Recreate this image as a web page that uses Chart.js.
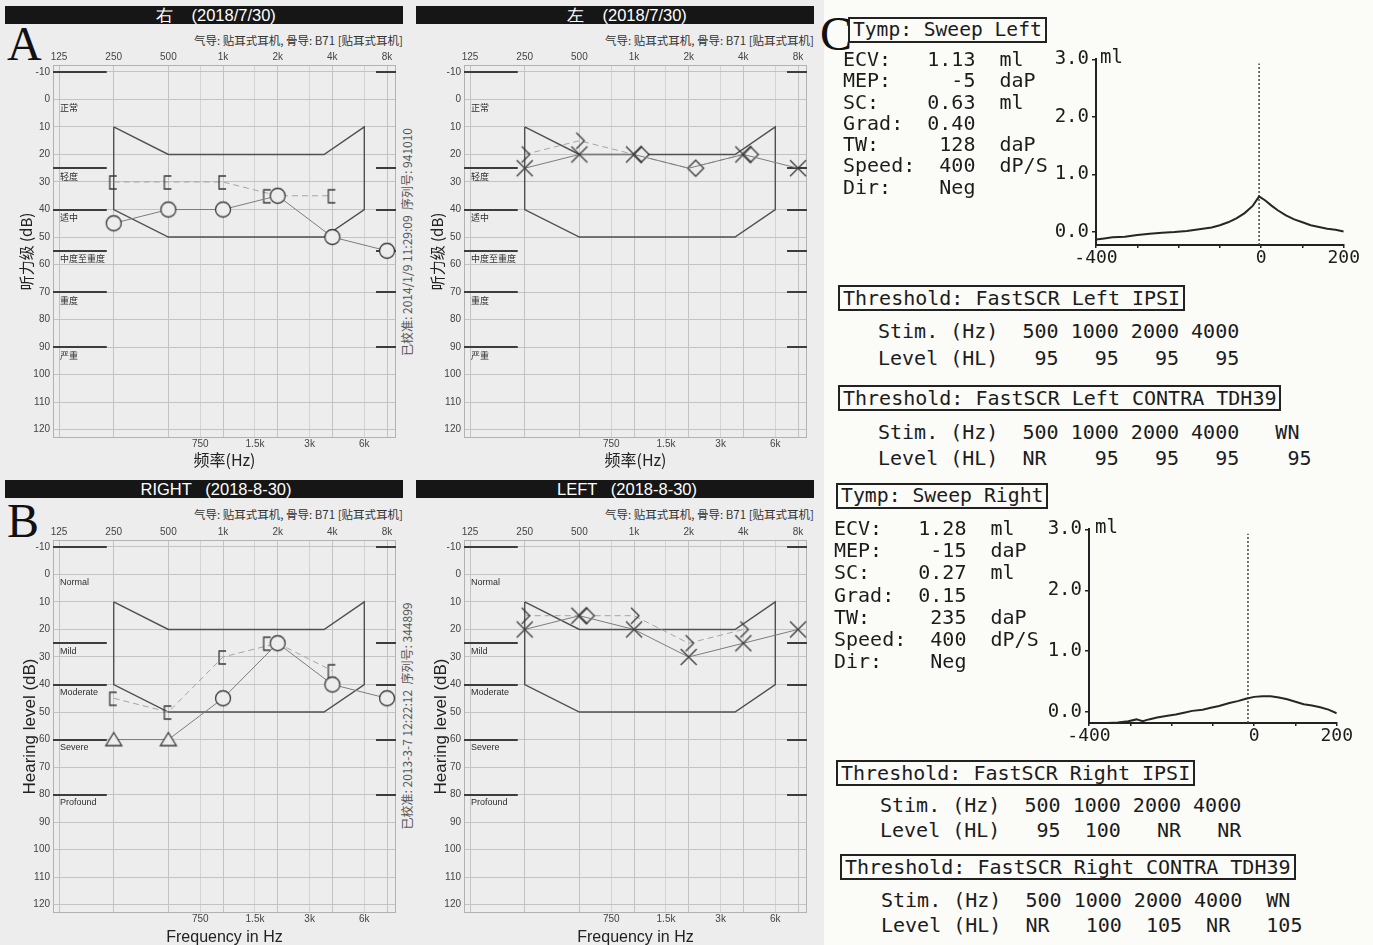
<!DOCTYPE html>
<html>
<head>
<meta charset="utf-8">
<title>Audiograms and tympanograms</title>
<script src="https://cdn.jsdelivr.net/npm/chart.js@4.4.1/dist/chart.umd.min.js"></script>
<style>
  body { margin: 0; width: 1373px; height: 945px; position: relative; overflow: hidden; background: #fbfbf8; font-family: "Liberation Sans", Arial, sans-serif; }
  #audioBg { position: absolute; left: 0; top: 0; width: 824px; height: 945px; background: #ededed; }
  canvas { position: absolute; }
  .bar { position: absolute; width: 398px; height: 18px; line-height: 18px; background: #161616; color: #fff; font-size: 16.5px; text-align: center; white-space: pre; box-sizing: border-box; padding-left: 24px; }
  .sub { position: absolute; width: 398px; text-align: right; font: 11.5px "Noto Sans CJK SC"; color: #333; line-height: 14px; white-space: pre; }
  .big { position: absolute; font: 48px "Liberation Serif", serif; line-height: 48px; color: #111; }
  .side { position: absolute; white-space: pre; font: 12px "Noto Sans CJK SC"; color: #555; transform: translate(-50%, -50%) rotate(-90deg); }
  .mono { position: absolute; margin: 0; white-space: pre; font-family: "DejaVu Sans Mono", monospace; color: #1c1c1c; font-size: 20px; }
  .box { border: 2px solid #222; padding: 0 3px; line-height: 22px; }
</style>
</head>
<body>
<div id="audioBg"></div>

<div class="bar" style="left:5px;top:6px">右    (2018/7/30)</div>
<div class="bar" style="left:416px;top:6px">左    (2018/7/30)</div>
<div class="bar" style="left:5px;top:480px">RIGHT   (2018-8-30)</div>
<div class="bar" style="left:416px;top:480px">LEFT   (2018-8-30)</div>

<div class="big" style="left:7px;top:20px">A</div>
<div class="big" style="left:7px;top:497px">B</div>
<div class="big" style="left:820px;top:10px">C</div>

<div class="sub" style="left:5px;top:33px">气导: 贴耳式耳机, 骨导: B71 [贴耳式耳机]</div>
<div class="sub" style="left:416px;top:33px">气导: 贴耳式耳机, 骨导: B71 [贴耳式耳机]</div>
<div class="sub" style="left:5px;top:507px">气导: 贴耳式耳机, 骨导: B71 [贴耳式耳机]</div>
<div class="sub" style="left:416px;top:507px">气导: 贴耳式耳机, 骨导: B71 [贴耳式耳机]</div>

<div class="side" style="left:406px;top:242px">已校准: 2014/1/9 11:29:09  序列号: 941010</div>
<div class="side" style="left:406px;top:716px">已校准: 2013-3-7 12:22:12  序列号: 344899</div>

<canvas id="aRight" width="400" height="430" style="left:5px;top:44px"></canvas>
<canvas id="aLeft" width="400" height="430" style="left:416px;top:44px"></canvas>
<canvas id="bRight" width="400" height="430" style="left:5px;top:519px"></canvas>
<canvas id="bLeft" width="400" height="430" style="left:416px;top:519px"></canvas>

<canvas id="tympLeft" width="317" height="225" style="left:1044px;top:45px"></canvas>
<canvas id="tympRight" width="318" height="233" style="left:1036px;top:515px"></canvas>

<div class="mono box" style="left:848px;top:17px;font-size:19.6px">Tymp: Sweep Left</div>
<pre class="mono" style="left:843px;top:49px;line-height:21.3px">ECV:   1.13  ml
MEP:     -5  daP
SC:    0.63  ml
Grad:  0.40
TW:     128  daP
Speed:  400  dP/S
Dir:    Neg</pre>
<pre class="mono" style="left:1100px;top:45px;font-size:19px;line-height:22px">ml</pre>
<div class="mono box" style="left:838px;top:285px">Threshold: FastSCR Left IPSI</div>
<pre class="mono" style="left:878px;top:318px;line-height:27px">Stim. (Hz)  500 1000 2000 4000
Level (HL)   95   95   95   95</pre>
<div class="mono box" style="left:838px;top:385px">Threshold: FastSCR Left CONTRA TDH39</div>
<pre class="mono" style="left:878px;top:419px;line-height:26px">Stim. (Hz)  500 1000 2000 4000   WN
Level (HL)  NR    95   95   95    95</pre>

<div class="mono box" style="left:836px;top:483px;font-size:19.8px">Tymp: Sweep Right</div>
<pre class="mono" style="left:834px;top:517px;line-height:22.2px">ECV:   1.28  ml
MEP:    -15  daP
SC:    0.27  ml
Grad:  0.15
TW:     235  daP
Speed:  400  dP/S
Dir:    Neg</pre>
<pre class="mono" style="left:1095px;top:515px;font-size:19px;line-height:22px">ml</pre>
<div class="mono box" style="left:836px;top:760px">Threshold: FastSCR Right IPSI</div>
<pre class="mono" style="left:880px;top:793px;line-height:25px">Stim. (Hz)  500 1000 2000 4000
Level (HL)   95  100   NR   NR</pre>
<div class="mono box" style="left:840px;top:854px">Threshold: FastSCR Right CONTRA TDH39</div>
<pre class="mono" style="left:881px;top:888px;line-height:25px">Stim. (Hz)  500 1000 2000 4000  WN
Level (HL)  NR   100  105  NR   105</pre>

<script>
// ---- audiogram axes ----
const FREQS = [250, 500, 1000, 2000, 4000, 8000];
const BONE_FREQS = [250, 500, 1000, 2000, 4000];
const MAIN_TICKS = [125, 250, 500, 1000, 2000, 4000, 8000];
const MAIN_LABELS = ['125', '250', '500', '1k', '2k', '4k', '8k'];
const HALF_TICKS = [750, 1500, 3000, 6000];
const HALF_LABELS = ['750', '1.5k', '3k', '6k'];
const DB_TICKS = [-10, 0, 10, 20, 30, 40, 50, 60, 70, 80, 90, 100, 110, 120];

// speech area outline
const BANANA_HZ = [250, 500, 3600, 6000, 6000, 3600, 500, 250, 250];
const BANANA_DB = [10, 20, 20, 10, 40, 50, 50, 40, 10];

// hearing loss degrees
const CN_DEGREES = ['正常', '轻度', '适中', '中度至重度', '重度', '严重'];
const CN_DEGREE_DB = [0, 25, 40, 55, 70, 90];
const CN_BAR_DB = [-10, 25, 40, 55, 70, 90];
const EN_DEGREES = ['Normal', 'Mild', 'Moderate', 'Severe', 'Profound'];
const EN_DEGREE_DB = [0, 25, 40, 60, 80];
const EN_BAR_DB = [-10, 25, 40, 60, 80];

// A (2018/7/30)
const aRightAir = [45, 40, 40, 35, 50, 55];
const aRightBone = [30, 30, 30, 35, 35];
const aLeftAir = [25, 20, 20, 25, 20, 25];
const aLeftBone = [20, 15, 20, 25, 20];
// B (2018-8-30)
const bRightAir = [60, 60, 45, 25, 40, 45];
const bRightBone = [45, 50, 30, 25, 35];
const bLeftAir = [20, 15, 20, 30, 25, 20];
const bLeftBone = [15, 15, 15, 25, 20];

// ---- C: tympanograms ----
const TYMP_X_TICKS = [-400, -300, -200, -100, 0, 100, 200];
const TYMP_X_LABELS = [-400, 0, 200];
const TYMP_Y_TICKS = [0, 1, 2, 3];
const tympLeftDaPa = [-400, -380, -360, -330, -300, -270, -240, -210, -180, -150, -120, -100, -80, -60, -40, -20, -5, 10, 25, 40, 60, 80, 100, 120, 140, 160, 180, 200];
const tympLeftMl = [-0.13, -0.11, -0.09, -0.08, -0.05, -0.03, -0.01, 0.0, 0.02, 0.05, 0.08, 0.12, 0.17, 0.24, 0.33, 0.46, 0.62, 0.55, 0.46, 0.38, 0.29, 0.22, 0.17, 0.12, 0.09, 0.06, 0.04, 0.01];
const tympRightDaPa = [-355, -330, -305, -285, -270, -255, -235, -210, -190, -170, -150, -125, -105, -85, -60, -40, -20, 0, 20, 40, 60, 80, 100, 120, 140, 160, 180, 200];
const tympRightMl = [-0.18, -0.17, -0.15, -0.12, -0.15, -0.12, -0.09, -0.06, -0.04, -0.01, 0.02, 0.04, 0.07, 0.10, 0.15, 0.18, 0.22, 0.25, 0.26, 0.26, 0.24, 0.21, 0.17, 0.13, 0.11, 0.08, 0.04, -0.02];
const MEP_LEFT = -5;
const MEP_RIGHT = -15;

const SANS = '"Liberation Sans", Arial, sans-serif';
const CJK = '"Noto Sans CJK SC", sans-serif';
const MONO = '"DejaVu Sans Mono", monospace';
const BG = '#ededed';
const INK = '#3a3a3a';

// marker glyphs (drawn off-centre where the symbol sits beside the frequency line)
function glyph(w, h, draw) {
    const c = document.createElement('canvas');
    c.width = w; c.height = h;
    const g = c.getContext('2d');
    g.strokeStyle = INK; g.fillStyle = BG; g.lineWidth = 1.3;
    draw(g, w / 2, h / 2);
    return c;
}
const SYM = {
    circle: glyph(20, 20, (g, cx, cy) => { g.beginPath(); g.arc(cx, cy, 7.5, 0, Math.PI * 2); g.fill(); g.stroke(); }),
    cross: glyph(20, 20, (g, cx, cy) => {
        g.beginPath(); g.moveTo(cx - 8, cy - 8); g.lineTo(cx + 8, cy + 8);
        g.moveTo(cx + 8, cy - 8); g.lineTo(cx - 8, cy + 8); g.stroke();
    }),
    tri: glyph(20, 20, (g, cx, cy) => {
        g.beginPath(); g.moveTo(cx, cy - 7); g.lineTo(cx + 8, cy + 6); g.lineTo(cx - 8, cy + 6); g.closePath(); g.fill(); g.stroke();
    }),
    bracket: glyph(24, 24, (g, cx, cy) => {
        g.beginPath(); g.moveTo(cx + 3, cy - 6); g.lineTo(cx - 4, cy - 6); g.lineTo(cx - 4, cy + 7); g.lineTo(cx + 3, cy + 7); g.stroke();
    }),
    bracketL: glyph(40, 24, (g, cx, cy) => {
        g.beginPath(); g.moveTo(cx - 7, cy - 6); g.lineTo(cx - 14, cy - 6); g.lineTo(cx - 14, cy + 7); g.lineTo(cx - 7, cy + 7); g.stroke();
    }),
    chev: glyph(24, 24, (g, cx, cy) => {
        g.beginPath(); g.moveTo(cx - 3, cy - 8); g.lineTo(cx + 5, cy); g.lineTo(cx - 3, cy + 8); g.stroke();
    }),
    dia: glyph(40, 24, (g, cx, cy) => {
        const d = cx + 7;
        g.beginPath(); g.moveTo(d, cy - 8); g.lineTo(d + 8, cy); g.lineTo(d, cy + 8); g.lineTo(d - 8, cy); g.closePath(); g.fill(); g.stroke();
    })
};

// frame, degree bars and degree names
function degreeDecor(bars, names, nameDb, font) {
    return {
        id: 'degreeDecor',
        beforeDatasetsDraw(chart) {
            const { ctx, chartArea: a, scales: { x, y } } = chart;
            ctx.save();
            ctx.strokeStyle = '#b2b2b2'; ctx.lineWidth = 1;
            ctx.strokeRect(a.left + 0.5, a.top + 0.5, a.width - 1, a.height - 1);
            const xl = x.getPixelForValue(229), xr = x.getPixelForValue(6960);
            ctx.strokeStyle = '#3d3d3d'; ctx.lineWidth = 2;
            bars.forEach(v => {
                const py = Math.round(y.getPixelForValue(v));
                ctx.beginPath();
                ctx.moveTo(a.left, py); ctx.lineTo(xl, py);
                ctx.moveTo(xr, py); ctx.lineTo(a.right, py);
                ctx.stroke();
            });
            ctx.fillStyle = '#2e2e2e'; ctx.font = font;
            ctx.textBaseline = 'middle'; ctx.textAlign = 'left';
            names.forEach((n, i) => ctx.fillText(n, a.left + 7, y.getPixelForValue(nameDb[i]) + 8));
            ctx.restore();
        }
    };
}

const X_MIN = 115.8, X_MAX = 8967;

function freqAxis(position, ticks, labels, gridColor, height, pad, title) {
    return {
        type: 'logarithmic', position, min: X_MIN, max: X_MAX, bounds: 'data',
        afterBuildTicks: s => { s.ticks = ticks.map(v => ({ value: v })); },
        afterFit: s => { s.height = height; },
        ticks: { autoSkip: false, maxRotation: 0, padding: pad, color: '#444', font: { family: SANS, size: 10 }, callback: (v, i) => labels[i] },
        grid: { color: gridColor, drawTicks: false },
        border: { display: false },
        title: title || { display: false }
    };
}

function audiogram(id, cfg) {
    const xy = (xs, ys) => xs.map((x, i) => ({ x, y: ys[i] }));
    new Chart(document.getElementById(id), {
        type: 'scatter',
        data: {
            datasets: [
                { data: xy(FREQS, cfg.air), showLine: true, borderColor: '#7c7c7c', borderWidth: 1, clip: 12,
                  pointStyle: cfg.airSym.map(s => SYM[s]), pointRadius: cfg.airRadius || 6 },
                { data: xy(BONE_FREQS, cfg.bone), showLine: true, borderColor: '#a4a4a4', borderWidth: 1, borderDash: [6, 4], clip: 12,
                  pointStyle: cfg.boneSym.map(s => SYM[s]), pointRadius: 6 },
                { data: xy(BANANA_HZ, BANANA_DB), showLine: true, borderColor: '#505050', borderWidth: 1.4, pointRadius: 0 }
            ]
        },
        options: {
            responsive: false, animation: false, devicePixelRatio: 1,
            layout: { padding: { top: 0, right: 9, bottom: 0, left: 0 } },
            plugins: { legend: { display: false }, tooltip: { enabled: false } },
            scales: {
                xTop: freqAxis('top', MAIN_TICKS, MAIN_LABELS, '#c3c3c3', 21, 2),
                x: freqAxis('bottom', HALF_TICKS, HALF_LABELS, '#d3d3d3', 36, 0, {
                    display: true, text: cfg.xTitle, color: '#222',
                    font: { family: cfg.titleFont, size: 16 }, padding: { top: 0, bottom: cfg.xTitlePad }
                }),
                y: {
                    type: 'linear', reverse: true, min: -12.5, max: 123,
                    afterBuildTicks: s => { s.ticks = DB_TICKS.map(v => ({ value: v })); },
                    afterFit: s => { s.width = 48; },
                    ticks: { padding: 3, color: '#444', font: { family: SANS, size: 10 } },
                    grid: { color: '#c3c3c3', drawTicks: false },
                    border: { display: false },
                    title: { display: true, text: cfg.yTitle, color: '#222',
                             font: { family: cfg.titleFont, size: cfg.yTitleSize }, padding: { top: cfg.yTitlePad, bottom: 0 } }
                }
            }
        },
        plugins: [degreeDecor(cfg.bars, cfg.names, cfg.nameDb, cfg.nameFont)]
    });
}

const cnText = { xTitle: '频率(Hz)', yTitle: '听力级 (dB)', titleFont: CJK, yTitleSize: 15, yTitlePad: 12, xTitlePad: 4,
                 bars: CN_BAR_DB, names: CN_DEGREES, nameDb: CN_DEGREE_DB, nameFont: '9px ' + CJK };
const enText = { xTitle: 'Frequency in Hz', yTitle: 'Hearing level (dB)', titleFont: SANS, yTitleSize: 17, yTitlePad: 15, xTitlePad: 2,
                 bars: EN_BAR_DB, names: EN_DEGREES, nameDb: EN_DEGREE_DB, nameFont: '9px ' + SANS };

audiogram('aRight', Object.assign({}, cnText, {
    air: aRightAir, airSym: ['circle', 'circle', 'circle', 'circle', 'circle', 'circle'],
    bone: aRightBone, boneSym: ['bracket', 'bracket', 'bracket', 'bracketL', 'bracket']
}));
audiogram('aLeft', Object.assign({}, cnText, {
    air: aLeftAir, airSym: ['cross', 'cross', 'cross', 'cross', 'cross', 'cross'], airRadius: [6, 6, 6, 0, 6, 6],
    bone: aLeftBone, boneSym: ['chev', 'chev', 'dia', 'dia', 'dia']
}));
audiogram('bRight', Object.assign({}, enText, {
    air: bRightAir, airSym: ['tri', 'tri', 'circle', 'circle', 'circle', 'circle'],
    bone: bRightBone, boneSym: ['bracket', 'bracket', 'bracket', 'bracketL', 'bracket']
}));
audiogram('bLeft', Object.assign({}, enText, {
    air: bLeftAir, airSym: ['cross', 'cross', 'cross', 'cross', 'cross', 'cross'],
    bone: bLeftBone, boneSym: ['chev', 'dia', 'chev', 'chev', 'chev']
}));

function tympanogram(id, daPa, ml, mep, yMin, axisWidth) {
    new Chart(document.getElementById(id), {
        type: 'scatter',
        data: {
            datasets: [
                { data: daPa.map((x, i) => ({ x, y: ml[i] })), showLine: true, borderColor: '#262626', borderWidth: 2, pointRadius: 0 },
                { data: [{ x: mep, y: yMin }, { x: mep, y: 2.93 }], showLine: true, borderColor: '#444', borderWidth: 1.5, borderDash: [2, 2], pointRadius: 0 }
            ]
        },
        options: {
            responsive: false, animation: false, devicePixelRatio: 1,
            layout: { padding: { top: 13, right: 17, bottom: 0, left: 0 } },
            plugins: { legend: { display: false }, tooltip: { enabled: false } },
            scales: {
                x: {
                    type: 'linear', min: -400, max: 200,
                    afterBuildTicks: s => { s.ticks = TYMP_X_TICKS.map(v => ({ value: v })); },
                    afterFit: s => { s.height = 25; },
                    ticks: { autoSkip: false, maxRotation: 0, padding: 1, color: '#1c1c1c',
                             font: { family: MONO, size: 18, lineHeight: 1 },
                             callback: v => TYMP_X_LABELS.includes(v) ? String(v) : '' },
                    grid: { drawOnChartArea: false, tickLength: 3, color: '#222', lineWidth: 1.5 },
                    border: { color: '#222', width: 2 }
                },
                y: {
                    type: 'linear', min: yMin, max: 3,
                    afterBuildTicks: s => { s.ticks = TYMP_Y_TICKS.map(v => ({ value: v })); },
                    afterFit: s => { s.width = axisWidth; },
                    ticks: { padding: 3, color: '#1c1c1c', font: { family: MONO, size: 19 }, callback: v => v.toFixed(1) },
                    grid: { drawOnChartArea: false, tickLength: 4, color: '#222', lineWidth: 1.5 },
                    border: { color: '#222', width: 2 }
                }
            }
        }
    });
}

tympanogram('tympLeft', tympLeftDaPa, tympLeftMl, MEP_LEFT, -0.224, 52);
tympanogram('tympRight', tympRightDaPa, tympRightMl, MEP_RIGHT, -0.179, 53);
</script>
</body>
</html>
